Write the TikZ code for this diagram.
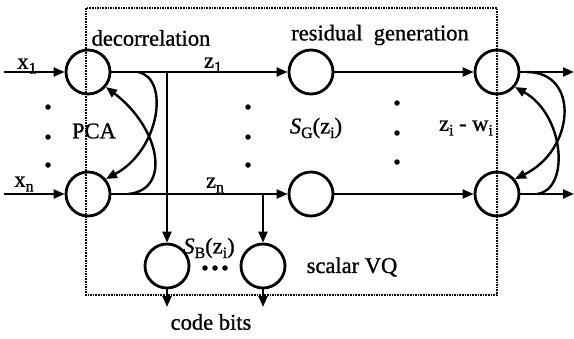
\documentclass[tikz,border=0pt]{standalone}
\usepackage{fontspec}
\setmainfont{Liberation Serif}
\newfontfamily\heavyfont{Liberation Serif}[FakeBold=1]
\usetikzlibrary{arrows.meta}
\newcommand{\lowsub}[1]{\raisebox{-0.45ex}{\fontsize{16}{16}\selectfont #1}}
\begin{document}
\begin{tikzpicture}[x=1pt,y=-1pt,
  every node/.style={font=\heavyfont\fontsize{22.5}{25}\selectfont, inner sep=0pt},
  unit/.style={circle, draw, line width=2.8pt, minimum size=44pt},
  flow/.style={line width=2.2pt, -{Triangle[length=11pt,width=9pt]}},
  fbcurve/.style={line width=2.4pt, -{Triangle[length=11pt,width=9pt]}},
  frame/.style={line width=1.7pt, dash pattern=on 1.6pt off 1pt},
  dotm/.style={circle, fill, minimum size=5.5pt}]
\useasboundingbox (0,0) rectangle (574,338);
\fill[white] (0,0) rectangle (574,338);
% frame
\draw[frame] (86,8) rectangle (497,295);
% units
\node[unit] (L1) at (88,72) {};
\node[unit] (Ln) at (88,194) {};
\node[unit] (M1) at (311,72) {};
\node[unit] (Mn) at (311,194) {};
\node[unit] (R1) at (497,72) {};
\node[unit] (Rn) at (497,194) {};
\node[unit] (B1) at (167,266) {};
\node[unit] (B2) at (263,266) {};
% free ends
\coordinate (in1) at (4,72);
\coordinate (inn) at (4,194);
\coordinate (out1) at (574,72);
\coordinate (outn) at (574,194);
\coordinate (cb1) at (167,307);
\coordinate (cb2) at (263,307);
\coordinate (br1) at (B1 |- L1);
\coordinate (br2) at (B2 |- Ln);
% flows
\draw[flow] (in1) -- (L1);
\draw[flow] (inn) -- (Ln);
\draw[flow] (L1) -- (M1);
\draw[flow] (Ln) -- (Mn);
\draw[flow] (M1) -- (R1);
\draw[flow] (Mn) -- (Rn);
\draw[flow] (R1) -- (out1);
\draw[flow] (Rn) -- (outn);
\draw[flow] (br1) -- (B1);
\draw[flow] (br2) -- (B2);
\draw[flow] (B1) -- (cb1);
\draw[flow] (B2) -- (cb2);
% feedback curves
\draw[fbcurve] (138,72) .. controls (170,78) and (160,150) .. (Ln.40);
\draw[fbcurve] (128,194) .. controls (172,190) and (160,128) .. (L1.-40);
\draw[fbcurve] (527,72) .. controls (580,72) and (575,150) .. (Rn.40);
\draw[fbcurve] (537,194) .. controls (570,190) and (565,115) .. (R1.-40);
% dots
\foreach \x/\n in {48/a,248/b} {
  \node[dotm] (d\n1) at (\x,107) {};
  \node[dotm] (d\n2) at (\x,137) {};
  \node[dotm] (d\n3) at (\x,165) {};
}
\node[dotm] (dc1) at (397,103) {};
\node[dotm] (dc2) at (397,133) {};
\node[dotm] (dc3) at (397,162) {};
\node[dotm] (dd1) at (205,268) {};
\node[dotm] (dd2) at (215,268) {};
\node[dotm] (dd3) at (225,268) {};
% labels
\node (tdec) at (151,38) {decorrelation};
\node (tres) at (380,35) {residual\ \ generation};
\node (tx1) at (27,66) {x\lowsub{1}};
\node (txn) at (24,184) {x\lowsub{n}};
\node (tz1) at (213,65) {z\lowsub{1}};
\node (tzn) at (215,185) {z\lowsub{n}};
\node (tpca) at (94,131) {PCA};
\node (tsg) at (316,128) {\textit{S}\lowsub{G}(z\lowsub{i})};
\node (tzw) at (466,128) {z\lowsub{i} - w\lowsub{i}};
\node (tsb) at (209,248) {\textit{S}\lowsub{B}(z\lowsub{i})};
\node (tvq) at (352,267) {scalar VQ};
\node (tcb) at (211,322) {code bits};
\end{tikzpicture}
\end{document}
